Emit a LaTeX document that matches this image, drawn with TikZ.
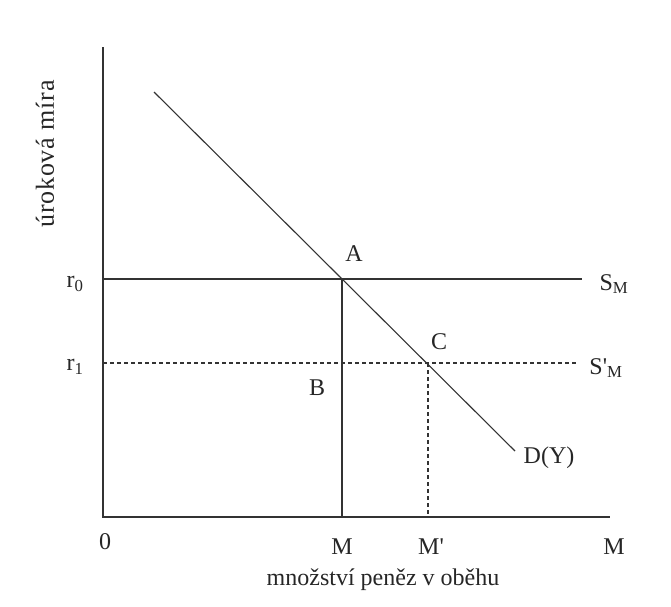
\documentclass[tikz,border=0pt]{standalone}
\usepackage{fontspec}
\setmainfont{Liberation Serif}
\usetikzlibrary{positioning,calc}
\tikzstyle{line} = [draw, line width=1.1pt, black!80]
\tikzstyle{dline} = [line, dash pattern=on 4pt off 3pt]
\tikzstyle{lbl} = [font=\fontsize{24}{28}\selectfont, text=black!85, inner sep=0pt]

\begin{document}
\begin{tikzpicture}[x=1pt, y=-1pt]
    \useasboundingbox (0,0) rectangle (671,606);

    \coordinate (O) at (103,517);
    \coordinate (ytop) at (103,47);
    \coordinate (xend) at (610,517);
    \coordinate (A) at (342,279);
    \coordinate (C) at (428,363);
    \coordinate (dtop) at (154,92);
    \coordinate (dbot) at (515,451);
    \coordinate (r0) at (103,279);
    \coordinate (r1) at (103,363);
    \coordinate (sm) at (582,279);
    \coordinate (smp) at (578,363);
    \coordinate (m) at (342,517);
    \coordinate (mp) at (428,517);

    \path [line] (ytop) -- (O) -- (xend);
    \path [line] (dtop) -- (dbot);
    \path [line] (r0) -- (sm);
    \path [line] (A) -- (m);
    \path [dline] (r1) -- (smp);
    \path [dline] (C) -- (mp);

    \node [lbl] (lr0) at (75,284) {r\textsubscript{0}};
    \node [lbl] (lr1) at (75,367) {r\textsubscript{1}};
    \node [lbl] (lsm) at (614,284) {S\textsubscript{M}};
    \node [lbl] (lsmp) at (606,368) {S\textquotesingle\textsubscript{M}};
    \node [lbl] (la) at (354,254) {A};
    \node [lbl] (lc) at (439,342) {C};
    \node [lbl] (lb) at (317,388) {B};
    \node [lbl] (ld) at (549,458) {D(Y)};
    \node [lbl] (l0) at (105,542) {0};
    \node [lbl] (lm) at (342,547) {M};
    \node [lbl] (lmp) at (431,547) {M\textquotesingle};
    \node [lbl] (lmx) at (614,547) {M};
    \node [lbl] (xlab) at (383,580) {množství peněz v oběhu};
    \node [lbl, font=\fontsize{26}{30}\selectfont, rotate=90] (ylab) at (45,154) {\addfontfeature{LetterSpace=3}úroková míra};
\end{tikzpicture}
\end{document}
